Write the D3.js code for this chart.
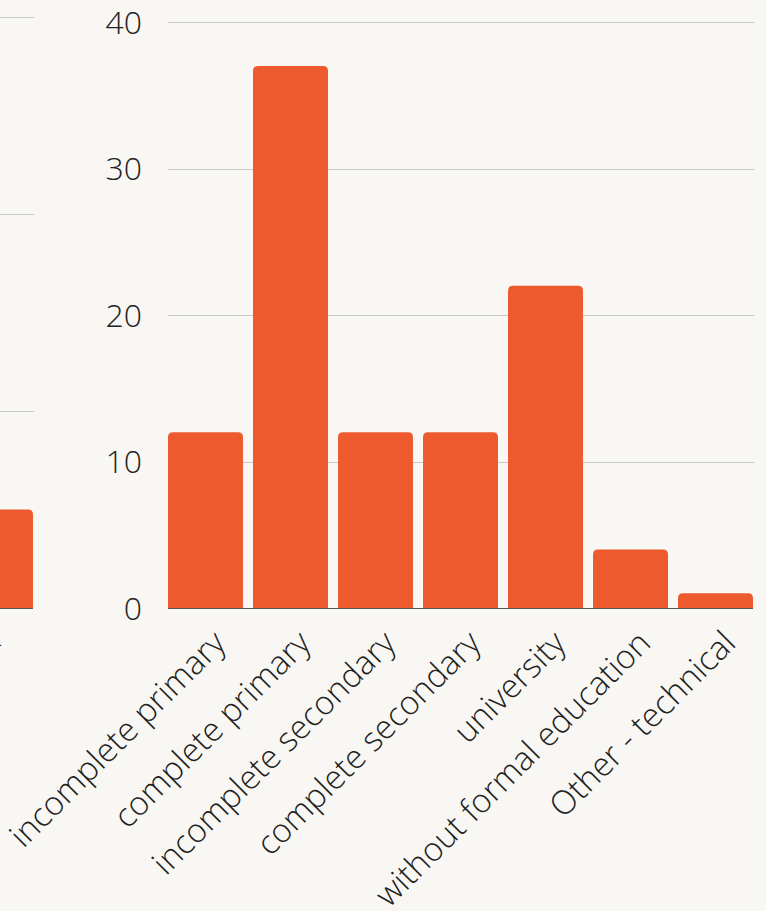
<!DOCTYPE html>
<meta charset="utf-8">
<html lang="en">
<head>
    <title>Education bars</title>
    <script src="https://cdn.jsdelivr.net/npm/d3@7"></script>
</head>
<style>
    body{
        margin: 0;
        background: #f8f7f3;
    }
    svg{
        display: block;
    }
    text{
        font-family: "Open Sans", sans-serif;
        font-weight: 300;
        fill: #222;
    }
</style>
<body>
<svg width="766" height="911"></svg>
<script>

    // main chart
    const categories = ["incomplete primary", "complete primary", "incomplete secondary",
        "complete secondary", "university", "without formal education", "Other - technical"]
    const counts = [12, 37, 12, 12, 22, 4, 1]
    const yTicks = [0, 10, 20, 30, 40]

    // neighbouring chart, cut off at the left edge
    const leftCategories = ["Work"]
    const leftCounts = [2.5]
    const leftTicks = [0, 5, 10, 15]

    const svg = d3.select("svg")
    const color = "#ed5a2d"
    const tickSize = 32
    const labelSize = 33

    function topRounded(x, y, w, h, r) {
        r = Math.min(r, h, w / 2)
        return `M${x},${y + h}V${y + r}Q${x},${y} ${x + r},${y}H${x + w - r}Q${x + w},${y} ${x + w},${y + r}V${y + h}Z`
    }

    function drawChart(g, cats, vals, ticks, xRange, yRange, showAxis, labelShift) {
        const x = d3.scaleBand().domain(cats).range(xRange).paddingInner(0.118).paddingOuter(0).align(0)
        const y = d3.scaleLinear().domain([0, d3.max(ticks)]).range(yRange)
        const right = x(cats[cats.length - 1]) + x.bandwidth()

        g.append("g").selectAll("line")
            .data(ticks.slice(1))
            .enter().append("line")
            .attr("x1", xRange[0]).attr("x2", right + 1)
            .attr("y1", d => Math.round(y(d)) + 0.5).attr("y2", d => Math.round(y(d)) + 0.5)
            .attr("stroke", "#c8c8c8")

        g.append("g").selectAll("path")
            .data(vals)
            .enter().append("path")
            .attr("d", (d, i) => topRounded(x(cats[i]), y(d), x.bandwidth(), y(0) - y(d), 5))
            .attr("fill", color)

        g.append("line")
            .attr("x1", xRange[0]).attr("x2", right)
            .attr("y1", y(0) + 0.5).attr("y2", y(0) + 0.5)
            .attr("stroke", "#555")

        if (showAxis) {
            g.append("g").selectAll("text")
                .data(ticks)
                .enter().append("text")
                .attr("x", xRange[0] - 26)
                .attr("y", d => y(d))
                .attr("dy", "0.36em")
                .attr("text-anchor", "end")
                .style("font-size", tickSize + "px")
                .text(d => d)
        }

        g.append("g").selectAll("text")
            .data(cats)
            .enter().append("text")
            .attr("transform", d => `translate(${x(d) + x.bandwidth() / 2 + labelShift},${y(0) + 37}) rotate(-45)`)
            .attr("text-anchor", "end")
            .style("font-size", labelSize + "px")
            .text(d => d)
    }

    drawChart(svg.append("g"), categories, counts, yTicks, [168, 753], [608, 22], true, 22)
    drawChart(svg.append("g"), leftCategories, leftCounts, leftTicks, [-42, 43], [608, 17], false, 6)

</script>
</body>
</html>
